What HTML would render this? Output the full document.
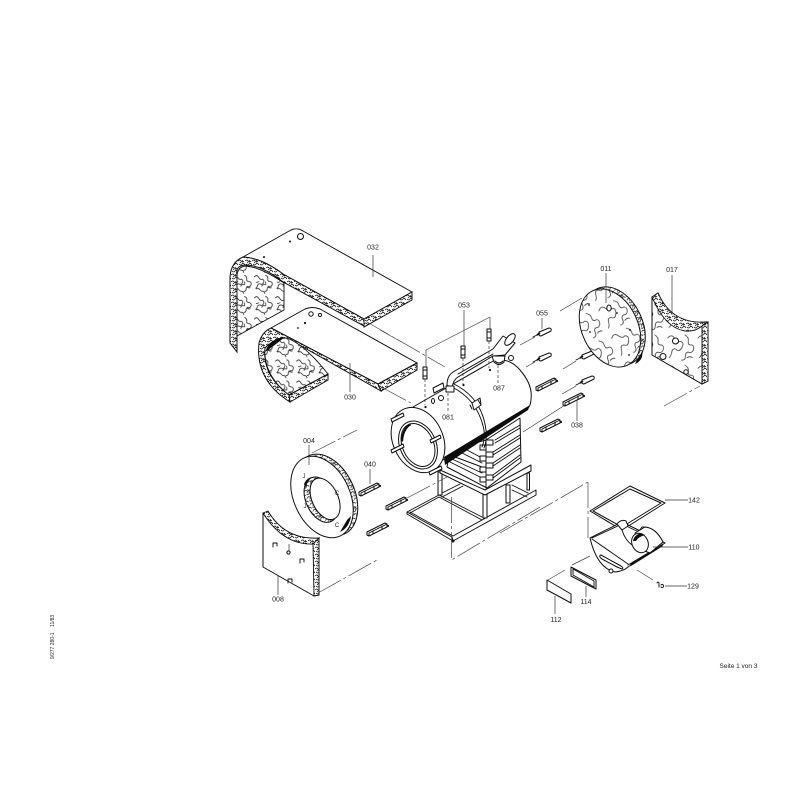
<!DOCTYPE html>
<html><head><meta charset="utf-8"><style>
html,body{margin:0;padding:0;background:#fff}
svg{display:block}
text{font-family:"Liberation Sans",sans-serif;font-size:7px;fill:#222;text-anchor:middle}
.l{fill:none;stroke:#111;stroke-width:.95;stroke-linejoin:round;stroke-linecap:round}
.w{fill:#fff;stroke:#111;stroke-width:1;stroke-linejoin:round}
.d{fill:none;stroke:#444;stroke-width:.7;stroke-dasharray:26 3 3 3}
.n{fill:none;stroke:#333;stroke-width:.7}
</style></head><body>
<svg width="800" height="800" viewBox="0 0 800 800" xmlns="http://www.w3.org/2000/svg">
<defs>
<filter id="b" x="0" y="0" width="100%" height="100%"><feGaussianBlur stdDeviation="0.3"/></filter>
<pattern id="s" width="34" height="34" patternUnits="userSpaceOnUse" patternTransform="scale(.62)">
<rect width="34" height="34" fill="#fff"/>
<path d="M2,5q4,-5 7,0t6,3q4,2 2,6t-5,2q-4,-1 -5,3t-3,4M20,2q5,2 4,6t4,4q4,1 3,5t-5,3q-3,0 -3,4t-4,4M5,24q4,-2 6,1t5,3t3,4M24,20q2,3 6,2M10,12q-3,2 -5,1M14,20q2,-4 5,-3t1,-5" fill="none" stroke="#222" stroke-width="1.250"/>
</pattern>
<pattern id="p" width="42" height="42" patternUnits="userSpaceOnUse" patternTransform="scale(.72)">
<rect width="42" height="42" fill="#fff"/>
<path d="M3,8q6,-7 10,0t8,4q6,2 2,9t-8,2q-5,-2 -6,4t-4,8M27,3q6,3 5,9t5,5q4,2 2,7t-7,3q-4,0 -4,6t-6,5M30,35q4,-3 8,0" fill="none" stroke="#333" stroke-width="1.050"/>
</pattern>
<pattern id="t" width="7" height="7" patternUnits="userSpaceOnUse">
<rect width="7" height="7" fill="#fff"/>
<path d="M0,2q2,-2 3,0t3,0M1,5q2,2 3,0t3,1M4,1l1,2M2,4l1,-1" fill="none" stroke="#111" stroke-width=".8"/>
</pattern>
<g id="clip"><path class="w" d="M-10,3 L8,-6 L10,-5 L10,-2 L-8,7 L-10,6 Z"/><path class="l" d="M-8,4 L10,-5 M-8,4 L-8,7 M-4,2l0,3M5,-3l0,3"/><circle cx="11" cy="-3" r="1.100" fill="#111"/></g>
<g id="stud"><path class="l" d="M-9,4 L-3,1"/><path class="w" d="M-3,-1 L7,-5 Q10,-5 9,-2 L-1,3 Q-4,3 -3,-1 Z"/><path d="M-5,2 l3,-2" stroke="#111" stroke-width="1.800"/></g>
<g id="pin"><rect x="-2" y="-6" width="4" height="12" class="w"/><path class="l" d="M-2,-3h4M-2,3h4"/></g>
<g id="hook"><path class="l" d="M-2,2v-4h4v3"/></g>
</defs>
<rect width="800" height="800" fill="#fff"/>
<g filter="url(#b)">

<!-- 032 -->
<path class="w" d="M243,257 L291,230 Q297,227 303,231 L412,292 L364,319 L283,274 Q262,258 243,257Z"/>
<path d="M243,257 Q262,258 283,274 L364,319 L364,326 L283,282 Q262,265 245,265 Q235,266 237,275 L237,352 L230,343 L230,277 Q231,262 243,257Z" fill="url(#t)" stroke="#111" stroke-width="1"/>
<path d="M364,319 L412,292 L412,300 L364,327Z" fill="url(#t)" stroke="#111" stroke-width="1"/>
<path d="M237,275 Q238,266 247,266 Q262,268 284,283 L284,310 L237,336Z" fill="url(#s)" stroke="#111" stroke-width=".9"/>
<circle cx="300.500" cy="236.500" r="3" class="w"/><circle cx="290" cy="241.500" r="1" fill="#111"/><circle cx="264" cy="257" r="1" fill="#111"/>

<!-- 030 -->
<path class="w" d="M271,328 L305,309 Q312,306 320,309 L417,363 L378,384 Z"/>
<path d="M271,328 L378,384 L381,391 L287,338 Q275,338 265,348 Q262,375 289,395 L290,402 Q255,380 259,343 Q262,332 271,328Z" fill="url(#t)" stroke="#111" stroke-width="1"/>
<path d="M378,384 L417,363 L417,370 L381,391Z" fill="url(#t)" stroke="#111" stroke-width="1"/>
<path d="M265,348 Q275,338 287,338 Q305,345 328,374 L289,395 Q263,375 265,348Z" fill="url(#s)" stroke="#111" stroke-width=".9"/>
<path d="M289,395 L328,374 L328,380 L290,402Z" fill="url(#t)" stroke="#111" stroke-width="1"/>
<path d="M265,352 Q270,338 285,337 Q275,345 268,350 Q265,352 265,352Z" fill="#111"/>
<circle cx="311" cy="314" r="2.200" class="w"/><circle cx="320" cy="315" r="1.600" class="w"/><circle cx="305" cy="323" r="1.100" fill="#111"/><circle cx="298" cy="328" r=".9" fill="#111"/>

<path class="d" d="M367,322 L445,367 M383,388 L411,403 M380,330 L407,345"/>
<path class="n" d="M373,255V277M350,363V392"/>

<!-- base frame -->
<path class="l" d="M407,512 L439,495 L482,517 M439,497 L482,520 M410,513 L439,497 M407,512 L452,537 L453,541 L407,514 Z M410,512 L453,536 M453,536 L536,490 L536,495 L453,541 M453,536 L482,520"/>
<circle cx="453" cy="541" r="1.500" fill="#111"/>
<!-- cross pieces -->
<path class="l" d="M442,493 L460,484 M442,497 L463,486 M512,485 L528,493 M512,490 L527,497"/>
<!-- legs -->
<path class="w" d="M438,472h4v23h-4Z M483,493h4v25h-4Z M506,485h4v18h-4Z M527,473h2.500v17h-2.500Z"/>
<!-- upper frame -->
<path class="w" d="M440,470 L485,490 L531,465 L531,471 L485,495 L440,473Z"/>

<!-- box -->
<path class="w" d="M486,440 L520,418 L521,462 L487,488 L447,467 L450,450Z"/>
<path class="l" d="M486,440V488 M495,440 L520,425 M495,443 L520,428 M493,452 L520,435 M493,455 L520,438 M493,463 L520,445 M493,466 L520,448 M493,475 L520,455 M493,478 L520,458 M450,462 L482,478 M452,459 L482,473 M455,457 L482,467 M462,453 L482,463 M467,450 L482,458"/>
<path class="w" d="M486,440h7v5h-7ZM486,452h7v5h-7ZM486,463h7v5h-7ZM486,475h7v5h-7ZM480,445h6v5h-6ZM480,456h6v5h-6ZM480,467h6v5h-6ZM480,477h6v5h-6Z"/>

<!-- tank -->
<path class="w" d="M413,407 L495,360 Q510,358 520,370 Q533,385 531,399 Q531,405 528,408 L444,460Z"/>
<path d="M444,457 L530,405 L528,410 L445,465Z" fill="#111"/>
<path class="l" d="M452,387 Q478,400 484,430 Q485,440 482,447 M454,384 Q482,398 486,430 Q487,441 484,448"/>
<path class="w" d="M472,403 L480,398 L481,405 L474,410Z"/>
<path class="l" d="M470,405l2,4M478,400l3,5"/>

<!-- flange -->
<ellipse cx="418" cy="440" rx="25" ry="34" transform="rotate(-25 418 440)" class="w"/>
<g transform="rotate(-25 418 445)">
<ellipse cx="418" cy="445" rx="18" ry="25" class="w"/>
<ellipse cx="418" cy="445" rx="15.500" ry="22.500" class="w"/>
<path d="M405,435 Q411,424 420,423" fill="none" stroke="#111" stroke-width="2.200"/>
</g>
<g transform="translate(397,417)"><path class="w" d="M-6,2 L6,-4 L7,-1 L-5,5Z"/></g>
<g transform="translate(397,447)"><path class="w" d="M-6,3 L6,-3 L7,0 L-5,6Z"/></g>
<g transform="translate(435,438)"><path class="w" d="M-5,2 L5,-3 L6,0 L-4,5Z"/></g>
<g transform="translate(435,469)"><path class="w" d="M-6,3 L6,-3 L7,0 L-5,6Z"/></g>

<!-- pipe -->
<path class="w" d="M447,385 Q447,376 453,372 L493,349 L503,336 L515,343 L505,355 L493,356 L458,377 Q453,380 452,388Z"/>
<path class="l" d="M458,374 L493,354"/>
<ellipse cx="510" cy="339.500" rx="3.500" ry="7" transform="rotate(40 510 339.500)" class="w" stroke-width="1.300"/>
<path class="w" d="M492,356 L505,356 L504,362 Q499,367 494,362Z"/>
<path class="l" d="M495,361 Q499,365 503,361"/>
<circle cx="511" cy="358" r="2.500" class="w"/>
<path class="w" d="M446,386 h8 v6 h-8Z"/>
<path class="w" d="M433,388 L443,383 L444,388 L434,393Z"/>
<circle cx="441" cy="398" r="2.500" class="w" stroke-width="1.500"/>
<ellipse cx="433" cy="401" rx="1.500" ry="2.500" class="w" stroke-width="1.200"/>

<!-- pins 053 -->
<use href="#pin" x="425" y="373"/><use href="#pin" x="463" y="352"/><use href="#pin" x="489" y="335"/>
<path class="d" style="stroke-dasharray:none" d="M426,350 L490,317"/>
<path class="n" d="M426,350V367M490,317V329M464,310V346"/>
<path class="n" stroke-dasharray="3 2" d="M425,379V405M463,358V385M489,341V368"/>
<circle cx="425.500" cy="407" r="1.100" fill="#111"/><circle cx="463.500" cy="385" r="1.100" fill="#111"/><circle cx="490" cy="370" r="1.100" fill="#111"/>
<path class="n" stroke-dasharray="3 2" d="M448,393V412M498,365V384"/>

<!-- studs & clips right -->
<use href="#stud" x="542" y="333"/><use href="#stud" x="542" y="358"/><use href="#stud" x="585" y="356"/><use href="#stud" x="585" y="381"/>
<use href="#clip" x="546" y="384"/><use href="#clip" x="550" y="425"/><use href="#clip" x="573" y="399"/>
<path class="n" d="M520,345 L535,337M526,367 L535,362M563,369 L576,361M562,394 L576,386M542,318V329M577,400V421M523,432 L565,405M560,311 L582,298"/>

<!-- 011 -->
<g transform="rotate(-25 610 328)">
<ellipse cx="615" cy="328" rx="28" ry="41" fill="url(#t)" stroke="#111" stroke-width="1"/>
<ellipse cx="610" cy="328" rx="28" ry="41" fill="url(#p)" stroke="#111" stroke-width="1"/>
</g>
<path d="M637,360 L643,350 L642,357 Q640,362 635,364Z" fill="#111"/>
<ellipse cx="609" cy="308" rx="2.200" ry="3" class="w"/>
<path class="n" d="M606,273V303"/>
<circle cx="589" cy="305" r=".9" fill="#111"/><circle cx="590" cy="332" r=".9" fill="#111"/><circle cx="630" cy="330" r=".9" fill="#111"/><circle cx="629" cy="355" r=".9" fill="#111"/><circle cx="617" cy="313" r=".9" fill="#111"/>

<!-- 017 -->
<path d="M652,297 L658,293 Q672,325 705,322 L708,322 L708,381 L702,384 L652,355Z" fill="url(#p)" stroke="#111" stroke-width="1"/>
<path d="M652,297 L658,293 Q672,325 708,322 L702,326 Q695,332 685,331 Q665,328 652,297Z" fill="url(#t)" stroke="#111" stroke-width=".9"/>
<path d="M702,326 L708,322 L708,381 L702,384Z" fill="url(#t)" stroke="#111" stroke-width=".9"/>
<circle cx="675.500" cy="341" r="3" class="w" stroke-width="1.600"/><circle cx="663" cy="356.500" r="3" class="w" stroke-width="1.600"/><circle cx="686" cy="372" r="2.200" class="w" stroke-width="1.400"/>
<path class="n" d="M672,275V315"/>
<path class="d" d="M664,406 L700,386"/>

<!-- 004 -->
<g transform="rotate(-25 322 497)">
<ellipse cx="327" cy="497" rx="28" ry="43" fill="url(#t)" stroke="#111" stroke-width="1"/>
<ellipse cx="322" cy="497" rx="28" ry="43" class="w"/>
<ellipse cx="320" cy="499" rx="15" ry="24" fill="url(#t)" stroke="#111" stroke-width="1"/>
<ellipse cx="324" cy="500" rx="13" ry="22" class="w"/>
</g>
<path d="M304,484 Q307,477 313,477 Q307,480 306,488Z" fill="#111"/>
<path d="M347,520 L340,532 Q349,528 351,516Z" fill="#111"/>
<text x="304" y="478" style="font-size:6px">J</text><text x="337" y="495" style="font-size:6px">C</text><text x="305" y="508" style="font-size:6px">J</text><text x="337" y="527" style="font-size:6px">C</text>
<path class="n" d="M309,445V465"/>
<path class="d" d="M312,453 L357,430"/>

<!-- 008 -->
<path class="w" d="M263,513 L263,567 L314,596 L319,595 L319,538 L313,543 Q285,545 263,513Z"/>
<path d="M263,513 L268,511 Q285,540 319,538 L313,544 Q283,545 263,513Z" fill="url(#t)" stroke="#111" stroke-width=".9"/>
<path d="M313,544 L319,538 L319,595 L314,596Z" fill="url(#t)" stroke="#111" stroke-width=".9"/>
<use href="#hook" x="275" y="545"/><use href="#hook" x="302" y="561"/><use href="#hook" x="290" y="581"/>
<circle cx="288.500" cy="552.500" r="1.600" class="w"/>
<path class="n" d="M289,544V551M278,575V595"/>
<path class="d" d="M318,593 L377,560"/>

<!-- clips 040 -->
<use href="#clip" x="369" y="489"/><use href="#clip" x="396" y="503"/><use href="#clip" x="377" y="529"/>
<path class="n" d="M370,469V484"/>
<path class="d" d="M407,498 L447,477"/>

<!-- dash box -->
<path class="d" d="M500,533 L588,482 M451.500,497 V560 L540,507 M588,482 V538"/>

<!-- 142 -->
<path class="w" d="M590,511 L630,486 L665,503 L622,530Z"/>
<path class="w" d="M593,511 L630,489 L661,503 L622,527Z"/>
<!-- 110 -->
<path class="w" d="M642,527 Q655,526 663,542 L650,552 L636,535Z"/>
<path class="w" d="M590,538 L622,522 L665,543 L628,567 Q624,571 615,572 Q597,568 590,538Z"/>
<path class="l" d="M592,539 L628,564 M628,565 L663,544 M592,538 L622,524 L662,543"/>
<path class="w" d="M617,524 Q621,519 626,521 L628,526 L622,530Z"/>
<path class="l" d="M622,530 Q625,540 632,545"/>
<path class="w" d="M635,533 L645,527 Q656,528 663,542 L650,553 Q638,550 635,533Z"/>
<ellipse cx="640" cy="543" rx="8" ry="10" transform="rotate(-25 640 543)" class="w"/>
<path d="M633,541 Q634,535 641,533 L645,535 Q638,537 636,541Z" fill="#111"/>
<path d="M630,564 L662,545 L663,546 L631,566Z" fill="#111"/>
<path class="w" d="M601,555 L621,566 Q624,568 622,569 L617,567 L602,559 Q598,556 601,555Z"/>
<circle cx="611" cy="571" r="2" class="w"/>
<path class="n" d="M665,500H688M653,547H688M665,586H687"/>
<path class="d" d="M637,570 L653,580"/>
<path class="l" d="M657,583q1,-2 2,0v4M661,585a1.500,1.500 0 1 1 0,2"/>

<!-- 114, 112 -->
<path class="w" d="M571,567 L596,580 L596,589 L571,576Z" stroke-width="1.300"/>
<path class="l" d="M573,569 L594,581 L594,587 L573,575Z"/>
<path class="w" d="M547,580 L571,594 L571,603 L547,590Z"/>
<path class="n" d="M586,586V597M555,596V614"/>
<path class="d" d="M548,580 L565,570 M572,565 L590,556"/>

<text x="373" y="249.500">032</text>
<text x="350" y="399.500">030</text>
<text x="464" y="307.500">053</text>
<text x="542" y="315.500">055</text>
<text x="499" y="390.500">087</text>
<text x="448" y="419.500">081</text>
<text x="577" y="427.500">038</text>
<text x="606" y="271">011</text>
<text x="672" y="272">017</text>
<text x="309" y="443">004</text>
<text x="370" y="466.500">040</text>
<text x="278" y="601.500">008</text>
<text x="694" y="502.500">142</text>
<text x="694" y="549.500">110</text>
<text x="693" y="588.500">129</text>
<text x="586" y="604">114</text>
<text x="556" y="622">112</text>
<text x="738.500" y="668" style="font-size:6.500px">Seite 1 von 3</text>
<text transform="translate(54,637) rotate(-90)" style="font-size:5px">9/277 280-1 &#160;&#160; 11/83</text>
</g>
</svg>
</body></html>
